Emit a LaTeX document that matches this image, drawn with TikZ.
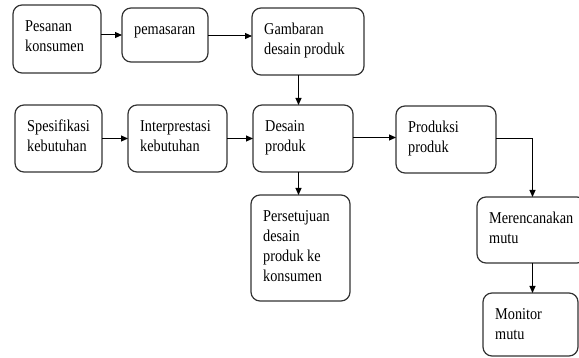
\documentclass[tikz,border=0pt]{standalone}
\usepackage{fontspec}
\setmainfont{Liberation Serif}[FakeStretch=0.86]
\usetikzlibrary{arrows.meta,calc}
\tikzset{
  procbox/.style={draw=black!80, line width=1.2pt, rounded corners=9pt,
    inner sep=0pt, outer sep=0pt, anchor=north west},
  boxtext/.style={anchor=base west, inner sep=0pt,
    font=\fontsize{16.6}{20}\selectfont, text=black},
  flow/.style={draw=black, line width=1pt,
    -{Triangle[length=7pt,width=6pt]}},
}
% #1 name, #2 left, #3 top, #4 right, #5 bottom, #6 lines of text
\newcommand\stepnode[6]{%
  \node[procbox, minimum width=#4-#2, minimum height=#5-#3] (#1) at (#2,#3) {};
  \node[boxtext] (#1-t) at ($(#1.north west)+(12,27)$)
    {\begin{tabular}[t]{@{}l@{}}#6\end{tabular}};
}
\begin{document}
\begin{tikzpicture}[x=1pt, y=-1pt]
  \useasboundingbox (0,0) rectangle (579,358);
  \clip (0,0) rectangle (579,358);

  % top row
  \stepnode{pes}{13}{5}{101}{73}{Pesanan\\konsumen}
  \stepnode{pem}{122}{8}{208}{62}{pemasaran}
  \stepnode{gam}{252}{8}{364}{75}{Gambaran\\desain produk}

  % middle row
  \stepnode{spe}{15}{105}{102}{172}{Spesifikasi\\kebutuhan}
  \stepnode{int}{128}{105}{227}{172}{Interprestasi\\kebutuhan}
  \stepnode{des}{253}{105}{353}{172}{Desain\\produk}
  \stepnode{pro}{396}{106}{496}{173}{Produksi\\produk}

  % lower boxes
  \stepnode{per}{251}{195}{350}{301}{Persetujuan\\desain\\produk ke\\konsumen}
  \stepnode{mer}{477}{197}{586}{263}{Merencanakan\\mutu}
  \stepnode{mon}{483}{293}{578}{356}{Monitor\\mutu}

  % vertical guide lines for the downward connectors
  \coordinate (colA) at (298.5,0);
  \coordinate (colB) at (532.5,0);

  % connectors
  \draw[flow] (pes.east |- pem.west) -- (pem.west);
  \draw[flow] (pem.east |- 0,36) -- (gam.west |- 0,36);
  \draw[flow] (gam.south -| colA) -- (des.north -| colA);
  \draw[flow] (spe.east) -- (int.west);
  \draw[flow] (int.east) -- (des.west);
  \draw[flow] (des.east |- 0,137.5) -- (pro.west |- 0,137.5);
  \draw[flow] (des.south -| colA) -- (per.north -| colA);
  \draw[flow] (pro.east |- 0,138.5) -| (mer.north -| colB);
  \draw[flow] (mer.south -| colB) -- (mon.north -| colB);
\end{tikzpicture}
\end{document}
